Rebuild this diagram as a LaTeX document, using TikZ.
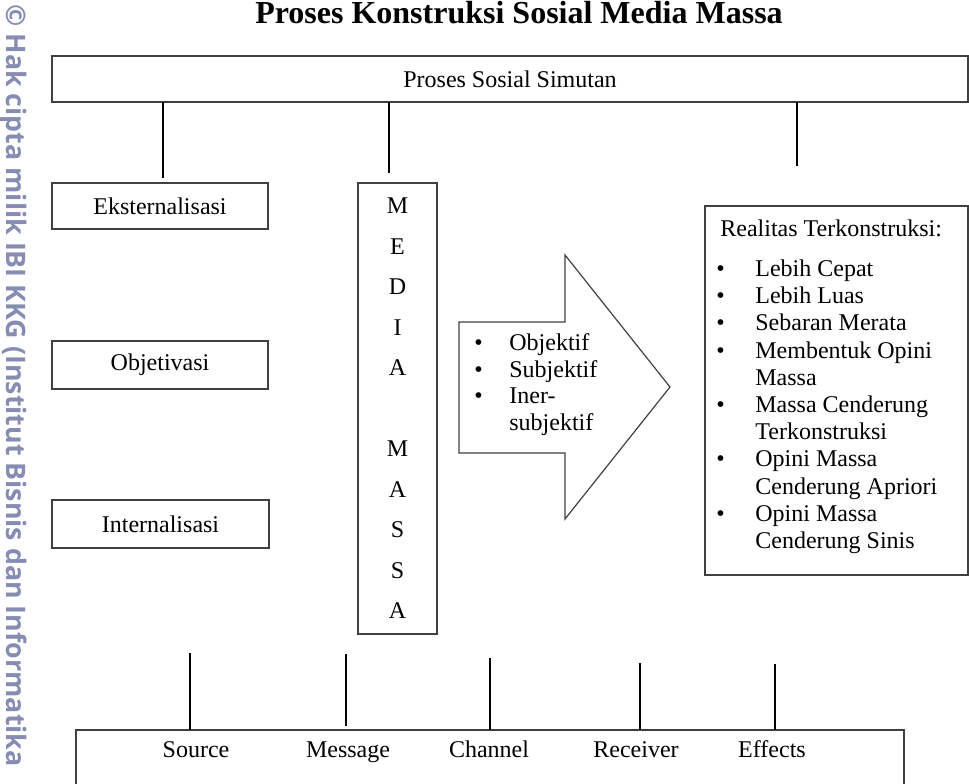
\documentclass[tikz,border=0pt]{standalone}
\usepackage{fontspec}
\setmainfont{Liberation Serif}
\newfontfamily\wmfont{Open Sans}
\definecolor{wmgray}{RGB}{135,140,178}
\definecolor{edge}{RGB}{64,64,64}
\tikzset{
  every node/.style={font=\fontsize{12}{14}\selectfont},
  box/.style={draw=edge, line width=0.65pt, inner sep=0pt, outer sep=0pt},
  link/.style={line width=1.35pt, black},
}
\newcommand{\itm}[1][17.5pt]{\makebox[#1][l]{\textbullet}}
\begin{document}
\begin{tikzpicture}[x=0.5pt,y=-0.5pt]
  \def\u{0.5pt}
  \useasboundingbox (0,0) rectangle (969,783);
  % watermark on the left
  \node[rotate=-90, anchor=base west, inner sep=0pt, text=wmgray,
        font=\wmfont\bfseries\fontsize{13.4}{16}\selectfont] (wm) at (6,4)
        {© Hak cipta milik IBI KKG (Institut Bisnis dan Informatika};
  \node[anchor=base, font=\fontsize{16}{19}\selectfont\bfseries] (title) at (519,23)
        {Proses Konstruksi Sosial Media Massa};
  \node[box, minimum width=916*\u, minimum height=46*\u] (simutan) at (510,79) {Proses Sosial Simutan};
  % left column
  \node[box, minimum width=216*\u, minimum height=46*\u] (ekst) at (160,206) {Eksternalisasi};
  \node[box, minimum width=216*\u, minimum height=48*\u] (objek) at (160,365) {Objetivasi};
  \node[box, minimum width=217*\u, minimum height=48*\u] (intern) at (160.5,524) {Internalisasi};
  % media massa
  \node[box, minimum width=79*\u, minimum height=451*\u, align=center,
        font=\fontsize{12}{20.25}\selectfont] (media) at (397.5,408.5)
        {M\\E\\D\\I\\A\\[20.25pt]M\\A\\S\\S\\A};
  % big arrow
  \draw[draw=edge, line width=0.6pt] (459,322) -- (565,322) -- (565,255) -- (670,387)
        -- (565,519) -- (565,453) -- (459,453) -- cycle;
  \node[anchor=north west, align=left, inner sep=0pt, font=\fontsize{12}{13.35}\selectfont] (sifat) at (474,333)
        {\itm Objektif\\ \itm Subjektif\\ \itm Iner-\\ \hspace*{17.5pt}subjektif};
  % realitas
  \node[box, minimum width=263*\u, minimum height=369*\u] (realitas) at (836.5,390.5) {};
  \node[anchor=north west, align=left, inner sep=0pt, font=\fontsize{12}{13.6}\selectfont] (ciri) at (720,219.5)
        {Realitas Terkonstruksi:\\[6.4pt]
         \hspace*{-2pt}\itm[19.5pt]Lebih Cepat\\
         \hspace*{-2pt}\itm[19.5pt]Lebih Luas\\
         \hspace*{-2pt}\itm[19.5pt]Sebaran Merata\\
         \hspace*{-2pt}\itm[19.5pt]Membentuk Opini\\ \hspace*{17.5pt}Massa\\
         \hspace*{-2pt}\itm[19.5pt]Massa Cenderung\\ \hspace*{17.5pt}Terkonstruksi\\
         \hspace*{-2pt}\itm[19.5pt]Opini Massa\\ \hspace*{17.5pt}Cenderung Apriori\\
         \hspace*{-2pt}\itm[19.5pt]Opini Massa\\ \hspace*{17.5pt}Cenderung Sinis};
  % bottom box
  \node[box, minimum width=828*\u, minimum height=80*\u] (smcre) at (490,770) {};
  \foreach \x/\name/\txt in {196/src/Source, 348/msg/Message, 489/chn/Channel, 636/rcv/Receiver, 772/eff/Effects}
    \node[anchor=base] (\name) at (\x,757) {\txt};
  % links from the top box
  \coordinate (t1) at (163,178);
  \coordinate (t2) at (389,173);
  \coordinate (t3) at (797,166);
  \draw[link] (simutan.south -| t1) -- (t1);
  \draw[link] (simutan.south -| t2) -- (t2);
  \draw[link] (simutan.south -| t3) -- (t3);
  % links to the bottom box
  \coordinate (b1) at (190,653);
  \coordinate (b2) at (346,654);
  \coordinate (b3) at (490,658);
  \coordinate (b4) at (640,663);
  \coordinate (b5) at (775,664);
  \draw[link] (b1) -- (b1 |- smcre.north);
  \draw[link, shorten >=2pt] (b2) -- (b2 |- smcre.north);
  \draw[link] (b3) -- (b3 |- smcre.north);
  \draw[link] (b4) -- (b4 |- smcre.north);
  \draw[link] (b5) -- (b5 |- smcre.north);
\end{tikzpicture}
\end{document}
